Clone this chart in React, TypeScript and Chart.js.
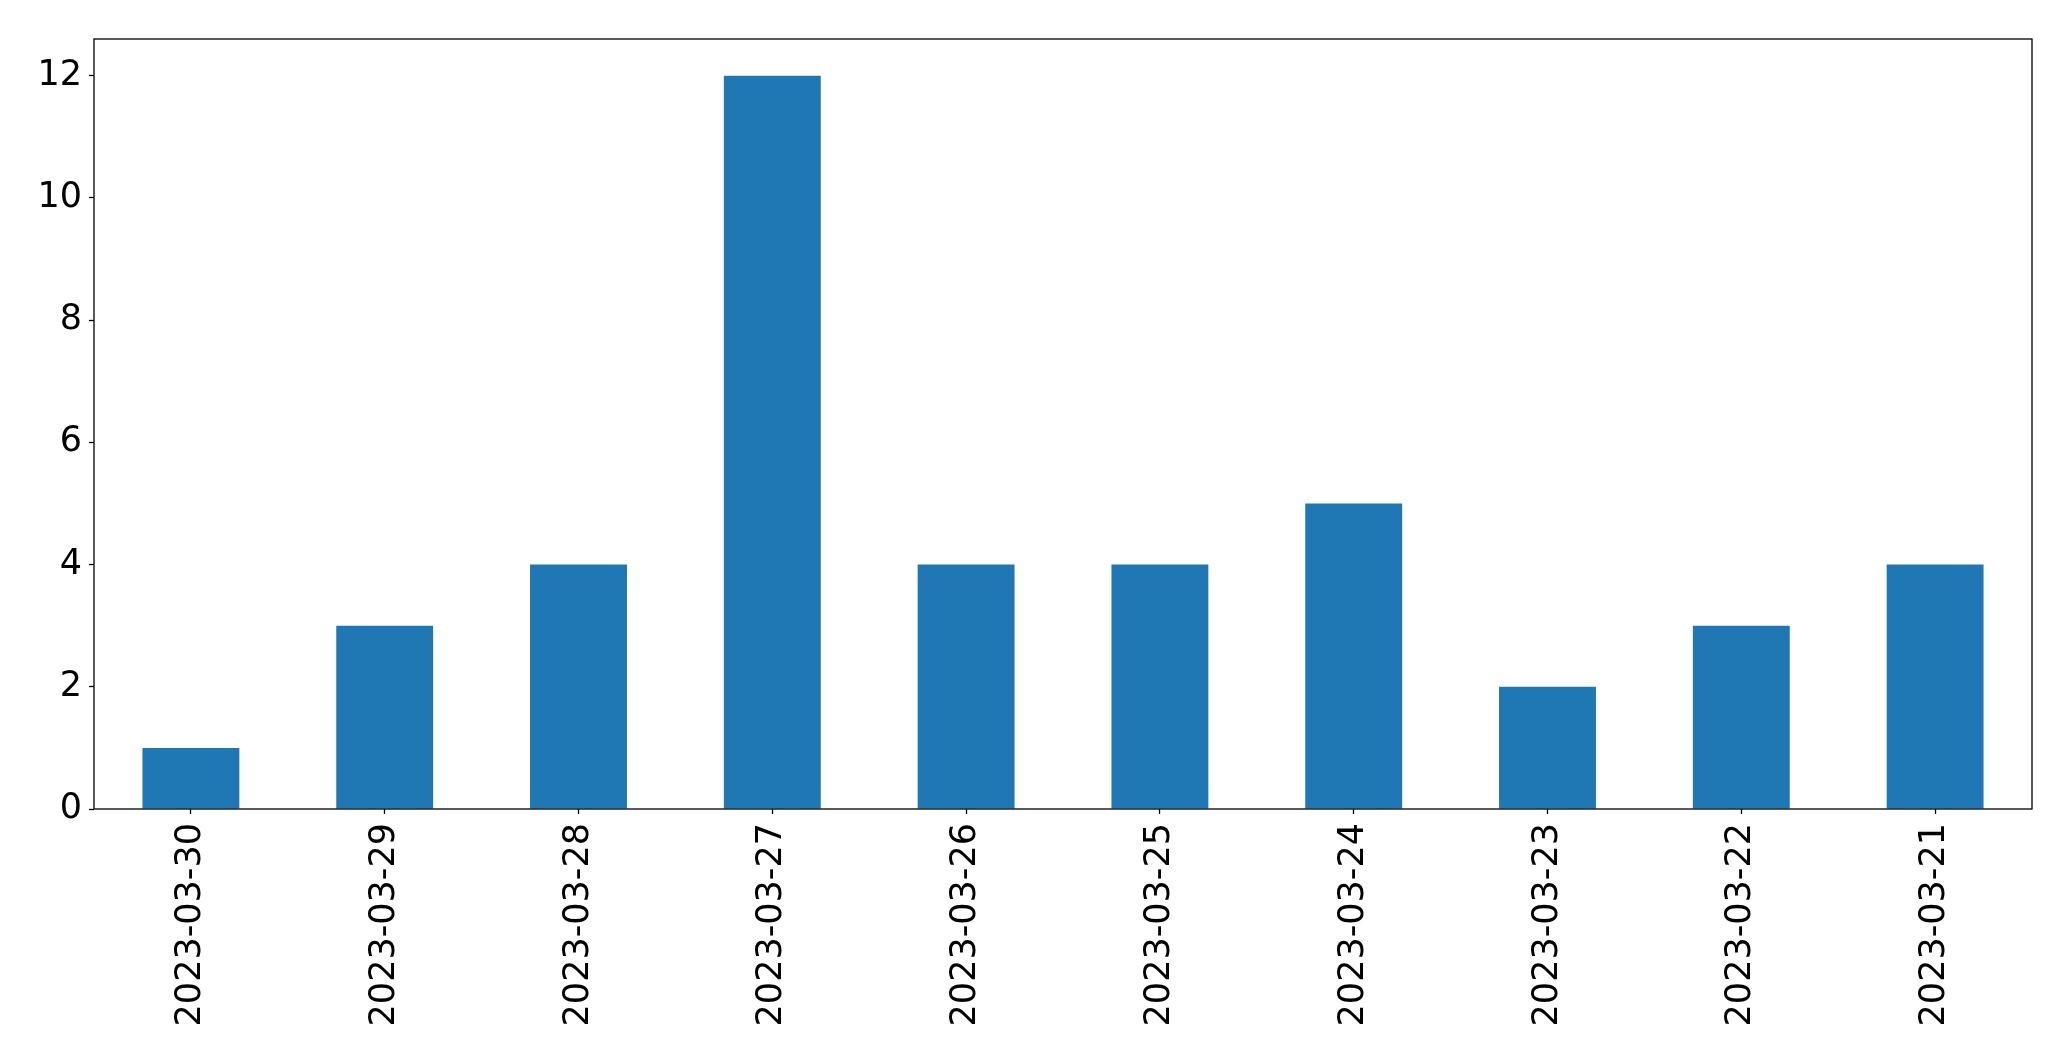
import React, { useEffect, useRef } from "react";
import { Chart, registerables } from "chart.js";

Chart.register(...registerables);

const categories = [
  "2023-03-30",
  "2023-03-29",
  "2023-03-28",
  "2023-03-27",
  "2023-03-26",
  "2023-03-25",
  "2023-03-24",
  "2023-03-23",
  "2023-03-22",
  "2023-03-21",
];
const counts = [1, 3, 4, 12, 4, 4, 5, 2, 3, 4];
const yTicks = [0, 2, 4, 6, 8, 10, 12];

const W = 2071;
const H = 1061;

const frame = {
  id: "frame",
  afterDraw(chart: any) {
    const { ctx, chartArea } = chart;
    ctx.save();
    ctx.strokeStyle = "#000";
    ctx.lineWidth = 1.3;
    ctx.strokeRect(chartArea.left, chartArea.top, chartArea.right - chartArea.left, chartArea.bottom - chartArea.top);
    ctx.restore();
  },
};

export default function App() {
  const ref = useRef<HTMLCanvasElement>(null);
  useEffect(() => {
    const font = { family: "'DejaVu Sans', sans-serif", size: 35 };
    const chart = new Chart(ref.current!, {
      type: "bar",
      data: {
        labels: categories,
        datasets: [
          {
            data: counts,
            backgroundColor: "#1f77b4",
            barPercentage: 0.5,
            categoryPercentage: 1,
          },
        ],
      },
      options: {
        responsive: false,
        animation: false,
        events: [],
        layout: { padding: { top: 39, right: 39, left: 0, bottom: 0 } },
        plugins: { legend: { display: false }, tooltip: { enabled: false } },
        scales: {
          x: {
            offset: true,
            border: { display: false },
            grid: {
              drawOnChartArea: false,
              drawTicks: true,
              tickLength: 5,
              tickWidth: 1.3,
              tickColor: "#000",
              offset: false,
            },
            ticks: {
              color: "#000",
              font,
              minRotation: 90,
              maxRotation: 90,
              autoSkip: false,
              padding: 9,
            },
            afterFit(scale: any) {
              scale.height = H - 809;
            },
          },
          y: {
            min: 0,
            max: 12.6,
            border: { display: false },
            grid: {
              drawOnChartArea: false,
              drawTicks: true,
              tickLength: 5,
              tickWidth: 1.3,
              tickColor: "#000",
            },
            ticks: {
              color: "#000",
              font,
              padding: 7,
            },
            afterBuildTicks(scale: any) {
              scale.ticks = yTicks.map((v) => ({ value: v }));
            },
            afterFit(scale: any) {
              scale.width = 94;
            },
          },
        },
      },
      plugins: [frame],
    });
    return () => chart.destroy();
  }, []);
  return (
    <div style={{ position: "fixed", left: 0, top: 0, width: W, height: H, background: "#fff" }}>
      <canvas ref={ref} width={W} height={H} style={{ width: W, height: H, display: "block" }} />
    </div>
  );
}
